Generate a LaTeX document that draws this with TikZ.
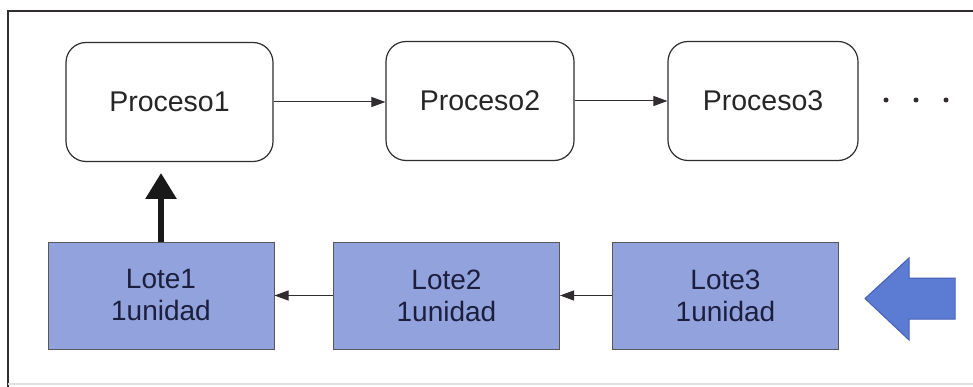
\documentclass[tikz,border=0pt]{standalone}
\usepackage{fontspec}
\setmainfont{Liberation Sans}
\usetikzlibrary{arrows.meta}
\definecolor{lotefill}{RGB}{146,162,220}
\definecolor{lotetext}{RGB}{28,30,62}
\definecolor{lineclr}{RGB}{48,44,48}
\definecolor{feedblue}{RGB}{92,124,212}
\definecolor{feededge}{RGB}{70,96,180}
\begin{document}
\begin{tikzpicture}[x=1pt,y=-1pt,
  procbox/.style={draw=lineclr,line width=1.2pt,rounded corners=20pt,
    minimum width=#1,minimum height=119pt,inner sep=0pt,
    font=\fontsize{28.5}{32}\selectfont,text=black!85},
  procbox/.default=200pt,
  lotebox/.style={draw=lineclr!80,line width=1pt,fill=lotefill,
    minimum width=226pt,minimum height=107pt,inner sep=0pt,align=center,
    font=\fontsize{28}{32}\selectfont,text=lotetext},
  flow/.style={draw=lineclr,line width=1pt,-{Triangle[length=14pt,width=10pt]}},
  feed/.style={draw=black!90,line width=6pt,-{Triangle[length=26pt,width=30pt]}},
  dot/.style={circle,fill=lineclr,inner sep=0pt,minimum size=5pt}
]
\useasboundingbox (0,0) rectangle (973,387);
\fill[white] (0,0) rectangle (973,387);
% frame
\draw[lineclr,line width=2pt] (8,387) -- (8,11) -- (973,11);
\draw[black!12,line width=1.2pt] (8,384) -- (973,384);

% process chain
\node[procbox=207pt] (p1) at (169.5,102) {Proceso1};
\node[procbox=188pt] (p2) at (480,101) {Proceso2};
\node[procbox=190pt] (p3) at (763,101) {Proceso3};
\draw[flow] (p1.east) -- (p1.east -| p2.west);
\draw[flow] (p2.east) -- (p3.west);
\node[dot] (d1) at (886,100) {};
\node[dot] (d2) at (916,100) {};
\node[dot] (d3) at (946,100) {};

% batches
\node[lotebox] (l1) at (161,295.5) {Lote1\\1unidad};
\node[lotebox] (l2) at (446.5,295.5) {Lote2\\1unidad};
\node[lotebox] (l3) at (725.5,295.5) {Lote3\\1unidad};
\draw[flow] (l2.west) -- (l1.east);
\draw[flow] (l3.west) -- (l2.east);
\coordinate (up) at (161,173);
\draw[feed] (l1.north) -- (up);

% incoming block arrow
\filldraw[fill=feedblue,draw=feededge,line width=1pt]
  (955,278) -- (909,278) -- (909,258) -- (865,298.5) -- (909,340)
  -- (909,319) -- (955,319) -- cycle;
\end{tikzpicture}
\end{document}
